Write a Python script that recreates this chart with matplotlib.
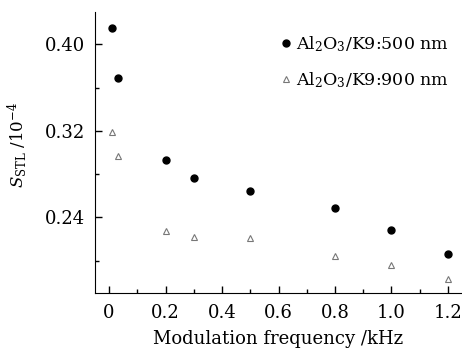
import matplotlib.pyplot as plt
from matplotlib.ticker import MultipleLocator

freq = [0.01, 0.03, 0.2, 0.3, 0.5, 0.8, 1.0, 1.2]
s_500 = [0.415, 0.369, 0.293, 0.276, 0.264, 0.249, 0.228, 0.206]
s_900 = [0.319, 0.297, 0.227, 0.2215, 0.2206, 0.2046, 0.1963, 0.1833]

plt.rcParams['font.family'] = 'DejaVu Serif'
plt.rcParams['mathtext.fontset'] = 'dejavuserif'

fig = plt.figure(figsize=(4.62, 3.54), dpi=100)
ax = fig.add_axes([95 / 462, 1 - 293 / 354, 367 / 462, 281 / 354])

ax.plot(freq, s_500, 'o', color='black', markersize=5, linestyle='none',
        label=r'Al$_2$O$_3$/K9:500 nm')
ax.plot(freq, s_900, '^', markerfacecolor='none', markeredgecolor='#777777',
        markeredgewidth=0.8, markersize=5, linestyle='none',
        label=r'Al$_2$O$_3$/K9:900 nm')

ax.set_xlim(-0.05, 1.25)
ax.set_ylim(0.17, 0.43)
ax.xaxis.set_minor_locator(MultipleLocator(0.1))
ax.yaxis.set_minor_locator(MultipleLocator(0.04))
ax.set_yticks([0.24, 0.32, 0.40])
ax.set_yticklabels(['0.24', '0.32', '0.40'])
ax.set_xticks([0, 0.2, 0.4, 0.6, 0.8, 1.0, 1.2])
ax.set_xticklabels(['0', '0.2', '0.4', '0.6', '0.8', '1.0', '1.2'])
ax.tick_params(which='major', direction='in', length=5, width=1, labelsize=13)
ax.tick_params(axis='x', which='major', pad=8)
ax.tick_params(axis='y', which='major', pad=7)
ax.tick_params(which='minor', direction='in', length=3, width=1)
ax.spines['top'].set_visible(False)
ax.spines['right'].set_visible(False)

ax.set_xlabel('Modulation frequency /kHz', fontsize=13, labelpad=6)
ax.set_ylabel(r'$S_{\mathrm{STL}}$ /10$^{-4}$', fontsize=12)
ax.yaxis.set_label_coords(-0.18, (293 - 145) / 281)

ax.legend(loc='center left', bbox_to_anchor=(175 / 367, (293 - 62) / 281),
          frameon=False, fontsize=12.5, handletextpad=0.1,
          handlelength=1.0, borderaxespad=0, labelspacing=0.9)

fig.savefig('out.png', dpi=100)
